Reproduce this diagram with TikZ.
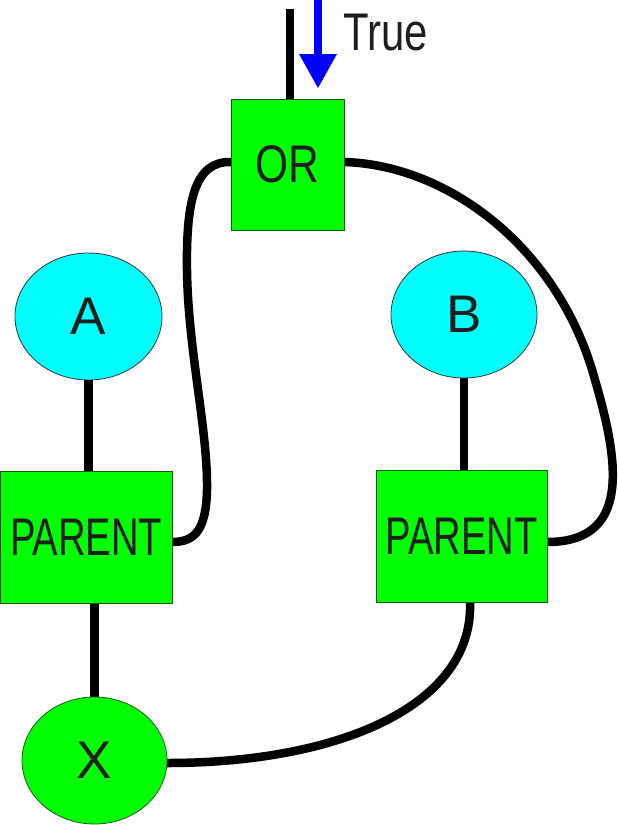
\documentclass[tikz,border=0pt]{standalone}
\usepackage{fontspec}
\setmainfont{Liberation Sans}
\usetikzlibrary{shapes.geometric,backgrounds}
\definecolor{boxgreen}{RGB}{0,255,0}
\definecolor{ellcyan}{RGB}{0,255,255}
\definecolor{txt}{RGB}{30,30,30}
\definecolor{edgegreen}{RGB}{20,90,20}
\tikzset{
  lbl/.style={font=\fontsize{53}{60}\selectfont, text=txt},
  gatebox/.style={rectangle, draw=edgegreen, line width=0.8pt, fill=boxgreen, inner sep=0pt, lbl},
  cyanell/.style={ellipse, draw=black!80, line width=0.8pt, fill=ellcyan, inner sep=0pt, lbl},
  greenell/.style={ellipse, draw=edgegreen, line width=0.8pt, fill=boxgreen, inner sep=0pt, lbl},
  conn/.style={draw=black, line width=8.5pt},
}
\begin{document}
\begin{tikzpicture}[x=1pt, y=-1pt]
\useasboundingbox (0,0) rectangle (618,825);

\coordinate (topend) at (290,9);
\coordinate (orl) at (231,162);
\coordinate (orr) at (344,162);
\coordinate (pll) at (172,542);
\coordinate (prr) at (547,542);
\coordinate (prb) at (470,602);
\coordinate (xr) at (167,763);

% nodes
\node[gatebox, minimum width=113pt, minimum height=131pt] (or) at (287.5,164.5) {\scalebox{0.8}[1]{OR}};
\node[cyanell, minimum width=147pt, minimum height=127pt] (A) at (88.5,316.5) {A};
\node[cyanell, minimum width=146pt, minimum height=127pt] (B) at (464,314.5) {B};
\node[gatebox, minimum width=172pt, minimum height=132pt] (PL) at (86,537) {\scalebox{0.72}[1]{PARENT}};
\node[gatebox, minimum width=171pt, minimum height=132pt] (PR) at (461.5,536) {\scalebox{0.72}[1]{PARENT}};
\node[greenell, minimum width=145pt, minimum height=127pt] (X) at (94.5,760.5) {\raisebox{-4pt}{X}};

% edges behind nodes
\begin{pgfonlayer}{background}
\draw[conn] (topend) -- (topend |- or.north);
\draw[conn] (A.south) -- (A.south |- PL.north);
\draw[conn] (X.north) -- (X.north |- PL.south);
\draw[conn] (B.south) -- (B.south |- PR.north);
\draw[conn] (orl) .. controls (195,161) and (186,200) .. (187,270)
               .. controls (188,350) and (208,430) .. (207,490)
               .. controls (206,530) and (195,542) .. (pll);
\draw[conn] (orr) .. controls (450,165) and (560,250) .. (595,380)
               .. controls (620,465) and (630,542) .. (prr);
\draw[conn] (prb) .. controls (474,705) and (340,763) .. (xr);
\end{pgfonlayer}

% blue arrow and label
\fill[blue] (314,0) rectangle (322,55);
\fill[blue] (299,54) -- (337,54) -- (318,88) -- cycle;
\node[lbl, anchor=base west, inner sep=0pt] (truelbl) at (343,50) {\scalebox{0.79}[1]{True}};
\end{tikzpicture}
\end{document}
